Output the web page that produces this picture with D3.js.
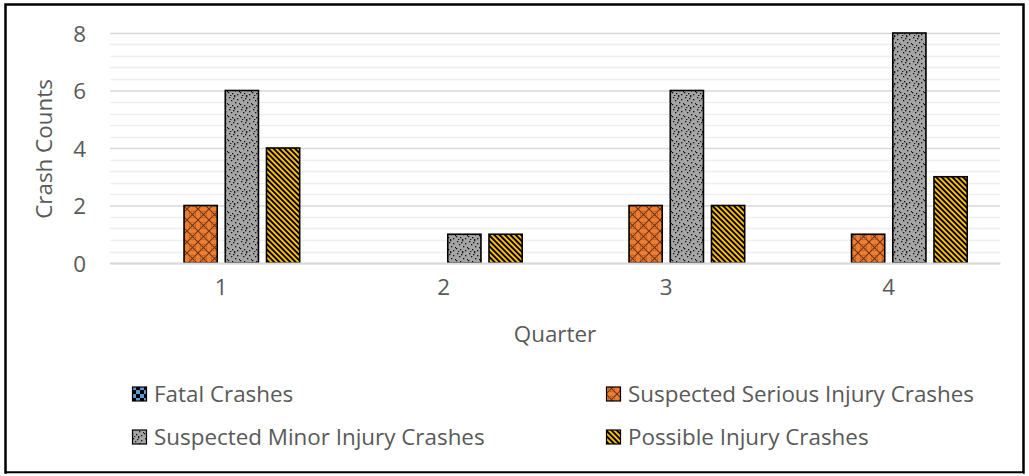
<!DOCTYPE html>
<html>
<head>
<meta charset="utf-8">
<script src="https://cdn.jsdelivr.net/npm/d3@7/dist/d3.min.js"></script>
<style>
  html, body { margin: 0; padding: 0; background: #fff; }
  svg text { font-family: "Open Sans", Lato, sans-serif; fill: #595959; }
</style>
</head>
<body>
<svg id="chart" width="1029" height="476"></svg>
<script>
const categories = ["1", "2", "3", "4"];
const seriesNames = ["Fatal Crashes", "Suspected Serious Injury Crashes", "Suspected Minor Injury Crashes", "Possible Injury Crashes"];
const fatal = [0, 0, 0, 0];
const serious = [2, 0, 2, 1];
const minor = [6, 1, 6, 8];
const possible = [4, 1, 2, 3];
const yTicks = [0, 2, 4, 6, 8];
const xTitle = "Quarter";
const yTitle = "Crash Counts";

(function () {
const seriesValues = [fatal, serious, minor, possible];
const patternIds = ["pFatal", "pSerious", "pMinor", "pPossible"];
const FONT = "'Open Sans', Lato, sans-serif";
const FS = 22.4;

const svg = d3.select("#chart");
const W = 1029, H = 476;

svg.append("rect").attr("x", 0).attr("y", 0).attr("width", W).attr("height", H).attr("fill", "#fff");

// patterns
const defs = svg.append("defs");
{
  const p = defs.append("pattern").attr("id", "pFatal").attr("patternUnits", "userSpaceOnUse").attr("width", 8).attr("height", 8);
  p.append("rect").attr("width", 8).attr("height", 8).attr("fill", "#000");
  p.append("rect").attr("x", 0).attr("y", 0).attr("width", 4).attr("height", 4).attr("fill", "#5B9BD5");
  p.append("rect").attr("x", 4).attr("y", 4).attr("width", 4).attr("height", 4).attr("fill", "#5B9BD5");
}
{
  const s = 11;
  const p = defs.append("pattern").attr("id", "pSerious").attr("patternUnits", "userSpaceOnUse").attr("width", s).attr("height", s);
  p.append("rect").attr("width", s).attr("height", s).attr("fill", "#ED7D31");
  p.append("path").attr("d", `M0,0 L${s},${s} M${s},0 L0,${s}`).attr("stroke", "#6b3310").attr("stroke-width", 1.1).attr("fill", "none");
  p.append("circle").attr("cx", s / 2).attr("cy", s / 2).attr("r", 3.2).attr("fill", "none").attr("stroke", "#a4501c").attr("stroke-width", 0.7);
}
{
  const p = defs.append("pattern").attr("id", "pMinor").attr("patternUnits", "userSpaceOnUse").attr("width", 12).attr("height", 12);
  p.append("rect").attr("width", 12).attr("height", 12).attr("fill", "#A5A5A5");
  const dots = [[1,1],[6,0],[9,3],[3,4],[11,7],[7,6],[0,8],[4,9],[9,10],[2,11],[6,11],[5,2]];
  dots.forEach(([x, yy]) => p.append("rect").attr("x", x).attr("y", yy).attr("width", 1.3).attr("height", 1.3).attr("fill", "#111"));
}
{
  const p = defs.append("pattern").attr("id", "pPossible").attr("patternUnits", "userSpaceOnUse").attr("width", 3.8).attr("height", 8).attr("patternTransform", "rotate(-45)");
  p.append("rect").attr("width", 3.8).attr("height", 8).attr("fill", "#FFC000");
  p.append("rect").attr("x", 0).attr("width", 1.9).attr("height", 8).attr("fill", "#000");
}

const pLeft = 110, pRight = 1000, pTop = 33, pBottom = 263;
const x0 = d3.scaleBand().domain(categories).range([pLeft, pRight]).paddingInner(0).paddingOuter(0);
const bw = x0.bandwidth();
const x1 = d3.scaleBand().domain(seriesNames).range([bw * 0.1475, bw * 0.8525]).paddingInner(0.195).paddingOuter(0);
const y = d3.scaleLinear().domain([0, 8]).range([pBottom, pTop]);

const minorTicks = d3.range(0, 8.0001, 0.4).filter(v => Math.abs(v / 2 - Math.round(v / 2)) > 1e-6);
svg.append("g").selectAll("line").data(minorTicks).join("line")
  .attr("x1", pLeft).attr("x2", pRight)
  .attr("y1", d => Math.round(y(d)) + 0.5).attr("y2", d => Math.round(y(d)) + 0.5)
  .attr("stroke", "#efefef").attr("stroke-width", 1.5);

const yAxis = d3.axisLeft(y).tickValues(yTicks).tickSize(-(pRight - pLeft)).tickPadding(24).tickFormat(d3.format("d"));
const gy = svg.append("g").attr("transform", `translate(${pLeft},0)`).call(yAxis);
gy.select(".domain").remove();
gy.selectAll(".tick line").attr("stroke", "#d9d9d9").attr("stroke-width", 1.5);
gy.selectAll(".tick text").attr("font-size", FS).attr("font-family", FONT).attr("fill", "#595959").attr("dy", "0.36em");

const barData = [];
categories.forEach((c, i) => seriesNames.forEach((s, j) => barData.push({ c, s, j, v: seriesValues[j][i] })));
svg.append("g").selectAll("rect").data(barData.filter(d => d.v > 0)).join("rect")
  .attr("x", d => x0(d.c) + x1(d.s))
  .attr("y", d => y(d.v))
  .attr("width", x1.bandwidth())
  .attr("height", d => y(0) - y(d.v))
  .attr("fill", d => `url(#${patternIds[d.j]})`)
  .attr("stroke", "#000").attr("stroke-width", 1.6);

const xAxis = d3.axisBottom(x0).tickSize(0).tickPadding(16);
const gx = svg.append("g").attr("transform", `translate(0,${pBottom})`).call(xAxis);
gx.select(".domain").attr("stroke", "#d9d9d9").attr("stroke-width", 2);
gx.selectAll(".tick text").attr("font-size", FS).attr("font-family", FONT).attr("fill", "#595959");

svg.append("text").attr("x", 555).attr("y", 342).attr("text-anchor", "middle").attr("font-size", FS).text(xTitle);
svg.append("text").attr("transform", "translate(52,149) rotate(-90)").attr("text-anchor", "middle").attr("font-size", FS).text(yTitle);

const legendPos = [[132, 394], [606, 394], [132, 437], [606, 437]];
const lg = svg.append("g").selectAll("g").data(seriesNames).join("g")
  .attr("transform", (d, i) => `translate(${legendPos[i][0]},${legendPos[i][1]})`);
lg.append("rect").attr("x", 0.5).attr("y", -7).attr("width", 14).attr("height", 14)
  .attr("fill", (d, i) => `url(#${patternIds[i]})`).attr("stroke", "#000").attr("stroke-width", 1.2);
lg.append("text").attr("x", 22).attr("y", 0).attr("dy", "0.35em").attr("font-size", FS).text(d => d);

svg.append("rect").attr("x", 5.5).attr("y", 4.5).attr("width", 1018).attr("height", 468)
  .attr("fill", "none").attr("stroke", "#000").attr("stroke-width", 2.5);
svg.append("line").attr("x1", 7).attr("x2", 1023).attr("y1", 473.5).attr("y2", 473.5).attr("stroke", "#bbb").attr("stroke-width", 1);
})();
</script>
</body>
</html>
